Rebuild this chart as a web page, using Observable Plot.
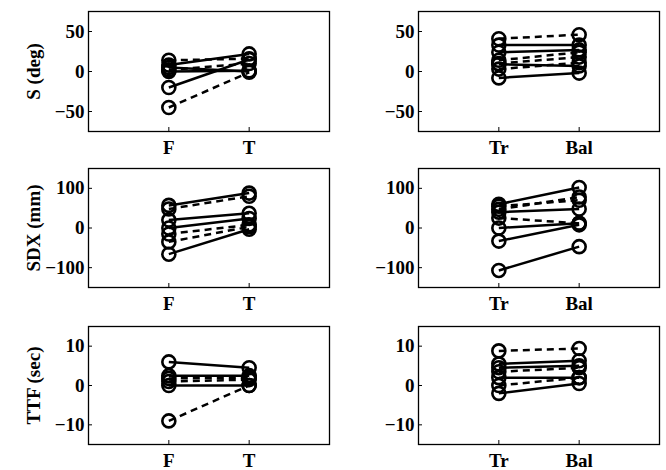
<!DOCTYPE html>
<html>
<head>
<meta charset="utf-8">
<script src="https://cdn.jsdelivr.net/npm/d3@7"></script>
<script src="https://cdn.jsdelivr.net/npm/@observablehq/plot@0.6"></script>
<style>
  html, body { margin: 0; padding: 0; background: #fff; }
  #chart { position: relative; width: 666px; height: 470px; overflow: hidden; }
  #chart svg { position: absolute; }
</style>
</head>
<body>
<div id="chart"></div>
<script>
// ---- categories / labels ----
const leftCats = ["F", "T"];
const rightCats = ["Tr", "Bal"];
const rowLabels = ["S (deg)", "SDX (mm)", "TTF (sec)"];
const rowTicks = [[-50, 0, 50], [-100, 0, 100], [-10, 0, 10]];
const rowDomains = [[-75, 75], [-150, 150], [-15, 15]];

// ---- S (deg): F -> T ----
const sF     = [14, 8, 5, 2, 0, -20, -45];
const sT     = [16, 22, 0, 10, 1, 15, -1];
const sFTdash = [true, false, false, true, false, false, true];
// ---- S (deg): Tr -> Bal ----
const sTr    = [41, 33, 24, 14, 10, 9, 3, -8];
const sBal   = [46, 33, 27, 24, 18, 7, 11, -2];
const sTBdash = [true, false, false, true, true, false, true, false];

// ---- SDX (mm): F -> T ----
const xF     = [57, 48, 20, 0, -15, -35, -66];
const xT     = [88, 80, 37, 24, 8, 3, -3];
const xFTdash = [false, true, false, false, true, true, false];
// ---- SDX (mm): Tr -> Bal ----
const xTr    = [60, 55, 47, 40, 25, 0, -33, -107];
const xBal   = [102, 70, 78, 48, 12, 12, 8, -47];
const xTBdash = [false, true, true, false, true, false, false, false];

// ---- TTF (sec): F -> T ----
const tF     = [6, 2.5, 1.8, 1, 0, -9];
const tT     = [4.5, 2.5, 2, 1.5, 0, 0];
const tFTdash = [false, false, true, true, false, true];
// ---- TTF (sec): Tr -> Bal ----
const tTr    = [8.8, 5.5, 4.5, 3.5, 2, 0, -2];
const tBal   = [9.4, 6.3, 5, 4.5, 2, 2, 0.5];
const tTBdash = [true, false, false, true, false, true, false];

const panels = [
  [[sF, sT, sFTdash, leftCats], [sTr, sBal, sTBdash, rightCats]],
  [[xF, xT, xFTdash, leftCats], [xTr, xBal, xTBdash, rightCats]],
  [[tF, tT, tFTdash, leftCats], [tTr, tBal, tTBdash, rightCats]]
];

const rows = [
  {top: 0,   mt: 11, fh: 120},
  {top: 157, mt: 11, fh: 119},
  {top: 315, mt: 11, fh: 118}
];
const cols = [
  {left: 0,   width: 333, ml: 88},
  {left: 333, width: 333, ml: 85}
];
const frameW = 241;
const mb = 26;

const font = {fontFamily: "'Liberation Serif', 'Times New Roman', serif", fontSize: "19px", fontWeight: "bold", background: "transparent", color: "#000"};

const root = document.getElementById("chart");

panels.forEach((row, ri) => {
  row.forEach((p, ci) => {
    const [before, after, dash, cats] = p;
    const pairs = before.map((b, i) => ({y1: b, y2: after[i], dashed: dash[i]}));
    const pts = [];
    before.forEach((b) => pts.push({x: 1, y: b}));
    after.forEach((a) => pts.push({x: 2, y: a}));
    const R = rows[ri], C = cols[ci];
    const marks = [
      Plot.frame({stroke: "#000", strokeWidth: 1.3}),
      Plot.axisY({
        ticks: rowTicks[ri], tickSize: -4, tickPadding: 8,
        label: ci === 0 ? rowLabels[ri] : null,
        labelAnchor: "center", labelArrow: "none", labelOffset: 62
      }),
      Plot.axisX({ticks: [1, 2], tickSize: -4, tickPadding: 13,
        tickFormat: d => cats[d - 1], label: null}),
      Plot.link(pairs.filter(d => !d.dashed), {x1: () => 1, x2: () => 2, y1: "y1", y2: "y2",
        stroke: "#000", strokeWidth: 2.5}),
      Plot.link(pairs.filter(d => d.dashed), {x1: () => 1, x2: () => 2, y1: "y1", y2: "y2",
        stroke: "#000", strokeWidth: 2.5, strokeDasharray: "7,5"}),
      Plot.dot(pts, {x: "x", y: "y", r: 6.5, stroke: "#000", strokeWidth: 2.6, fill: "none"})
    ];
    const svg = Plot.plot({
      width: C.width,
      height: R.mt + R.fh + mb,
      marginLeft: C.ml,
      marginRight: C.width - C.ml - frameW,
      marginTop: R.mt,
      marginBottom: mb,
      style: font,
      x: {domain: [0, 3], axis: null},
      y: {domain: rowDomains[ri], axis: null},
      marks
    });
    svg.style.left = C.left + "px";
    svg.style.top = R.top + "px";
    root.appendChild(svg);
  });
});
</script>
</body>
</html>
